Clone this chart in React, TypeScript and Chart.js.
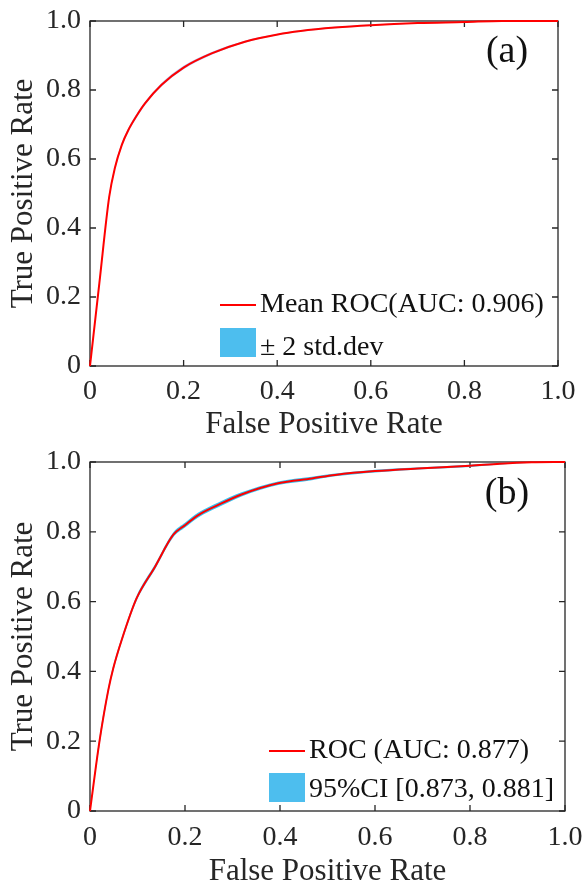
import React, { useEffect, useRef } from 'react';
import { Chart, registerables } from 'chart.js';

Chart.register(...registerables);

// ---------- data ----------
const tickValues = [0, 0.2, 0.4, 0.6, 0.8, 1.0];
const tickLabels = ['0', '0.2', '0.4', '0.6', '0.8', '1.0'];

// Panel (a): mean ROC with ±2 std band
const fprA = [0, 0.02, 0.041, 0.053, 0.068, 0.082, 0.1, 0.1175, 0.153, 0.2, 0.26, 0.331, 0.401, 0.45, 0.523, 0.6, 0.7, 0.8, 0.88, 1.0];
const tprA = [0, 0.24, 0.49, 0.573, 0.641, 0.684, 0.726, 0.761, 0.815, 0.865, 0.906, 0.94, 0.961, 0.971, 0.981, 0.988, 0.994, 0.997, 1.0, 1.0];
const upperA = [0, 0.248, 0.497, 0.579, 0.647, 0.69, 0.732, 0.766, 0.82, 0.87, 0.91, 0.943, 0.963, 0.973, 0.983, 0.99, 0.995, 0.998, 1.0, 1.0];
const lowerA = [0, 0.232, 0.483, 0.567, 0.635, 0.678, 0.72, 0.756, 0.81, 0.86, 0.902, 0.937, 0.959, 0.969, 0.979, 0.986, 0.993, 0.996, 0.999, 1.0];

// Panel (b): ROC with 95% CI band
const fprB = [0, 0.02, 0.0386, 0.049, 0.0667, 0.098, 0.137, 0.175, 0.2, 0.228, 0.27, 0.319, 0.396, 0.467, 0.516, 0.6, 0.7, 0.8, 0.863, 0.93, 1.0];
const tprB = [0, 0.2, 0.347, 0.409, 0.49, 0.609, 0.7, 0.791, 0.819, 0.848, 0.877, 0.907, 0.939, 0.953, 0.963, 0.974, 0.982, 0.989, 0.995, 0.999, 1.0];
const upperB = [0, 0.212, 0.356, 0.417, 0.497, 0.616, 0.707, 0.798, 0.826, 0.855, 0.884, 0.913, 0.944, 0.958, 0.967, 0.978, 0.985, 0.992, 0.997, 1.0, 1.0];
const lowerB = [0, 0.188, 0.338, 0.401, 0.483, 0.602, 0.693, 0.784, 0.812, 0.841, 0.87, 0.901, 0.934, 0.948, 0.959, 0.97, 0.979, 0.986, 0.993, 0.998, 1.0];

const legendA = ['Mean ROC(AUC: 0.906)', '\u00B1 2 std.dev'];
const legendB = ['ROC (AUC: 0.877)', '95%CI [0.873, 0.881]'];

const FONT = "'Liberation Serif', 'Times New Roman', serif";
const INK = '#262626';
const BAND = '#4DBEEE';

type PanelCfg = {
  fpr: number[];
  tpr: number[];
  upper: number[];
  lower: number[];
  legend: string[];
  tag: string;
  bandColor: string;
  padRight: number;
  padTop: number;
  xAxisHeight: number;
  xTickPad: number;
  xTitleLH: number;
  legendX: number;
  legendLineY: number;
  legendText1Y: number;
  patchTop: number;
  legendText2Y: number;
  tagX: number;
  tagY: number;
};

function makePlugin(cfg: PanelCfg) {
  return {
    id: 'frameLegend',
    beforeDatasetsDraw(chart: any) {
      const { ctx, chartArea: a, scales } = chart;
      const x = scales.x;
      const y = scales.y;
      ctx.save();
      ctx.strokeStyle = INK;
      ctx.lineWidth = 1.3;
      ctx.strokeRect(a.left, a.top, a.right - a.left, a.bottom - a.top);
      ctx.beginPath();
      tickValues.forEach((v) => {
        const px = x.getPixelForValue(v);
        ctx.moveTo(px, a.bottom);
        ctx.lineTo(px, a.bottom - 6);
        ctx.moveTo(px, a.top);
        ctx.lineTo(px, a.top + 6);
        const py = y.getPixelForValue(v);
        ctx.moveTo(a.left, py);
        ctx.lineTo(a.left + 6, py);
        ctx.moveTo(a.right, py);
        ctx.lineTo(a.right - 6, py);
      });
      ctx.stroke();
      ctx.restore();
    },
    afterDatasetsDraw(chart: any) {
      const { ctx } = chart;
      ctx.save();
      ctx.strokeStyle = '#FF0000';
      ctx.lineWidth = 2;
      ctx.beginPath();
      ctx.moveTo(cfg.legendX, cfg.legendLineY);
      ctx.lineTo(cfg.legendX + 36, cfg.legendLineY);
      ctx.stroke();
      ctx.fillStyle = BAND;
      ctx.fillRect(cfg.legendX, cfg.patchTop, 36, 29);
      ctx.fillStyle = '#111111';
      ctx.font = `28px ${FONT}`;
      ctx.textAlign = 'left';
      ctx.textBaseline = 'alphabetic';
      ctx.fillText(cfg.legend[0], cfg.legendX + 40, cfg.legendText1Y);
      ctx.fillText(cfg.legend[1], cfg.legendX + 40, cfg.legendText2Y);
      ctx.font = `38px ${FONT}`;
      ctx.textAlign = 'center';
      ctx.textBaseline = 'middle';
      ctx.fillText(cfg.tag, cfg.tagX, cfg.tagY);
      ctx.restore();
    },
  };
}

function RocPanel({ cfg }: { cfg: PanelCfg }) {
  const ref = useRef<HTMLCanvasElement | null>(null);
  useEffect(() => {
    if (!ref.current) return;
    const pts = (ys: number[]) => cfg.fpr.map((f, i) => ({ x: f, y: ys[i] }));
    const setTicks = (s: any) => {
      s.ticks = tickValues.map((v) => ({ value: v }));
    };
    const chart = new Chart(ref.current, {
      type: 'line',
      data: {
        datasets: [
          {
            label: 'roc',
            data: pts(cfg.tpr),
            borderColor: '#FF0000',
            borderWidth: 2,
            pointRadius: 0,
            fill: false,
            cubicInterpolationMode: 'monotone',
            clip: false,
          },
          {
            label: 'upper',
            data: pts(cfg.upper),
            borderWidth: 0,
            pointRadius: 0,
            backgroundColor: cfg.bandColor,
            fill: '+1',
            cubicInterpolationMode: 'monotone',
            clip: false,
          },
          {
            label: 'lower',
            data: pts(cfg.lower),
            borderWidth: 0,
            pointRadius: 0,
            fill: false,
            cubicInterpolationMode: 'monotone',
            clip: false,
          },
        ],
      },
      options: {
        animation: false,
        responsive: false,
        devicePixelRatio: 1,
        events: [],
        layout: { padding: { left: 0, right: cfg.padRight, top: cfg.padTop, bottom: 0 } },
        plugins: { legend: { display: false }, tooltip: { enabled: false } },
        scales: {
          x: {
            type: 'linear',
            min: 0,
            max: 1,
            afterBuildTicks: setTicks,
            afterFit: (s: any) => {
              s.height = cfg.xAxisHeight;
              s.paddingLeft = 0;
              s.paddingRight = 0;
              s.paddingTop = 0;
              s.paddingBottom = 0;
            },
            grid: { display: false, drawTicks: false },
            border: { display: false },
            ticks: {
              color: INK,
              font: { family: FONT, size: 28 },
              padding: cfg.xTickPad,
              maxRotation: 0,
              autoSkip: false,
              callback: (_v: any, i: number) => tickLabels[i],
            },
            title: {
              display: true,
              text: 'False Positive Rate',
              color: INK,
              font: { family: FONT, size: 31, lineHeight: cfg.xTitleLH },
              padding: { top: 0, bottom: 0 },
            },
          },
          y: {
            type: 'linear',
            min: 0,
            max: 1,
            afterBuildTicks: setTicks,
            afterFit: (s: any) => {
              s.width = 90;
              s.paddingLeft = 0;
              s.paddingRight = 0;
              s.paddingTop = 0;
              s.paddingBottom = 0;
            },
            grid: { display: false, drawTicks: false },
            border: { display: false },
            ticks: {
              color: INK,
              font: { family: FONT, size: 28 },
              padding: 9,
              autoSkip: false,
              callback: (_v: any, i: number) => tickLabels[i],
            },
            title: {
              display: true,
              text: 'True Positive Rate',
              color: INK,
              font: { family: FONT, size: 31, lineHeight: 1.2 },
              padding: { top: 5, bottom: 0 },
            },
          },
        },
      },
      plugins: [makePlugin(cfg)],
    });
    return () => chart.destroy();
  }, [cfg]);
  return <canvas ref={ref} width={585} height={443} style={{ display: 'block', width: 585, height: 443 }} />;
}

const cfgA: PanelCfg = {
  fpr: fprA,
  tpr: tprA,
  upper: upperA,
  lower: lowerA,
  legend: legendA,
  tag: '(a)',
  bandColor: 'rgba(120,150,235,0.6)',
  padRight: 27,
  padTop: 21,
  xAxisHeight: 77,
  xTickPad: 9,
  xTitleLH: 1.2,
  legendX: 220,
  legendLineY: 305,
  legendText1Y: 312,
  patchTop: 328,
  legendText2Y: 355,
  tagX: 507,
  tagY: 52,
};

const cfgB: PanelCfg = {
  fpr: fprB,
  tpr: tprB,
  upper: upperB,
  lower: lowerB,
  legend: legendB,
  tag: '(b)',
  bandColor: 'rgba(40,190,238,0.95)',
  padRight: 20,
  padTop: 19,
  xAxisHeight: 75,
  xTickPad: 10,
  xTitleLH: 0.9,
  legendX: 269,
  legendLineY: 308,
  legendText1Y: 315,
  patchTop: 330,
  legendText2Y: 354,
  tagX: 507,
  tagY: 51,
};

export default function App() {
  return (
    <div style={{ position: 'absolute', left: 0, top: 0, width: 585, height: 886, background: '#ffffff' }}>
      <div style={{ position: 'absolute', left: 0, top: 0 }}>
        <RocPanel cfg={cfgA} />
      </div>
      <div style={{ position: 'absolute', left: 0, top: 443 }}>
        <RocPanel cfg={cfgB} />
      </div>
    </div>
  );
}
